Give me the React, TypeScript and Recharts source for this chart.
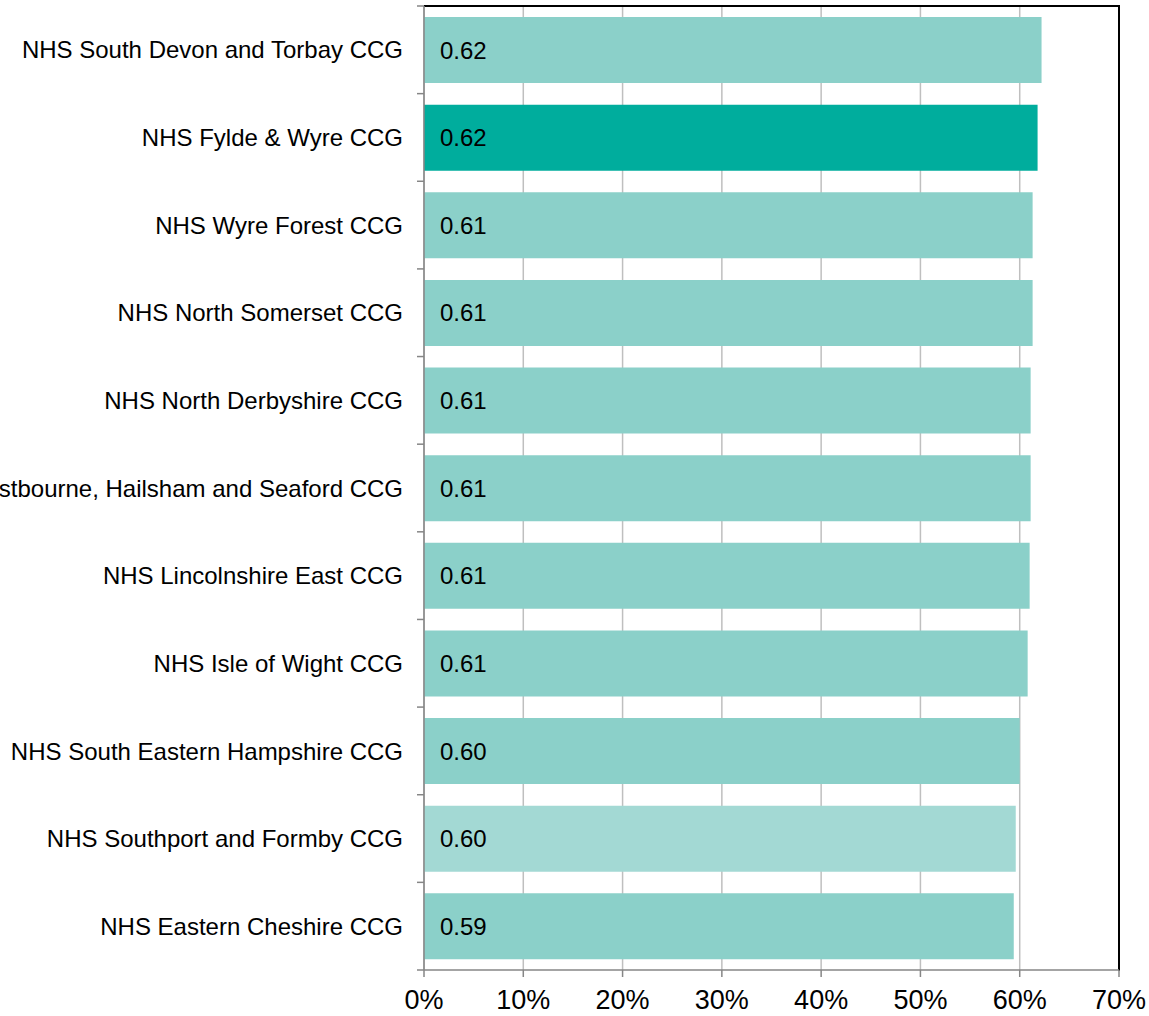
import { BarChart, Bar, XAxis, YAxis, CartesianGrid, Cell, LabelList, ReferenceArea } from 'recharts';

const categories = [
    'NHS South Devon and Torbay CCG',
    'NHS Fylde & Wyre CCG',
    'NHS Wyre Forest CCG',
    'NHS North Somerset CCG',
    'NHS North Derbyshire CCG',
    'NHS Eastbourne, Hailsham and Seaford CCG',
    'NHS Lincolnshire East CCG',
    'NHS Isle of Wight CCG',
    'NHS South Eastern Hampshire CCG',
    'NHS Southport and Formby CCG',
    'NHS Eastern Cheshire CCG',
];

const values = [0.622, 0.618, 0.613, 0.613, 0.611, 0.611, 0.610, 0.608, 0.600, 0.596, 0.594];

const xTicks = [0, 0.1, 0.2, 0.3, 0.4, 0.5, 0.6, 0.7];

const highlighted = 'NHS Fylde & Wyre CCG';
const faded = 'NHS Southport and Formby CCG';

const data = categories.map((name, i) => ({ name, value: values[i] }));

const FONT = 'Liberation Sans, Arial, sans-serif';
const BAND = (970 - 6) / categories.length;

const barColor = (name: string) => {
    if (name === highlighted) return '#00ad9d';
    if (name === faded) return '#a3d9d4';
    return '#8bd0c9';
};

const CategoryTick = (props: any) => {
    const { x, y, payload, index } = props;
    const last = index === categories.length - 1;
    return <g>
        <line x1={424} x2={417} y1={y - BAND / 2} y2={y - BAND / 2} stroke="#868686" strokeWidth={1.5} />
        {last && <line x1={424} x2={417} y1={y + BAND / 2} y2={y + BAND / 2} stroke="#868686" strokeWidth={1.5} />}
        <text x={x} y={y} dy="0.36em" textAnchor="end" fontFamily={FONT} fontSize={24} fill="#000">
            {payload.value}
        </text>
    </g>;
};

const App = () => {
    return <div style={{ position: 'absolute', left: 0, top: 0 }}>
        <BarChart
            width={1149}
            height={1016}
            data={data}
            layout="vertical"
            margin={{ top: 6, right: 30, bottom: 0, left: 0 }}
        >
            <CartesianGrid horizontal={false} stroke="#bfbfbf" strokeWidth={1.5} />
            <XAxis
                type="number"
                domain={[0, 0.7]}
                ticks={xTicks}
                tickFormatter={(v: number) => `${Math.round(v * 100)}%`}
                tick={{ fontFamily: FONT, fontSize: 27, fill: '#000' }}
                axisLine={{ stroke: '#868686', strokeWidth: 1.5 }}
                tickLine={{ stroke: '#868686', strokeWidth: 1.5 }}
                tickSize={7}
                tickMargin={13}
                height={46}
            />
            <YAxis
                type="category"
                dataKey="name"
                width={424}
                axisLine={{ stroke: '#868686', strokeWidth: 1.5 }}
                tickLine={false}
                tickMargin={15}
                tick={<CategoryTick />}
                interval={0}
            />
            <ReferenceArea
                x1={0}
                x2={0.7}
                fill="none"
                stroke="#000"
                strokeWidth={2}
                strokeDasharray="1660 3000"
            />
            <Bar dataKey="value" barSize={66} isAnimationActive={false}>
                {data.map(d => <Cell key={d.name} fill={barColor(d.name)} />)}
                <LabelList
                    dataKey="value"
                    position="insideLeft"
                    offset={16}
                    formatter={(v: any) => Number(v).toFixed(2)}
                    style={{ fontFamily: FONT, fontSize: 24, fill: '#000' }}
                />
            </Bar>
        </BarChart>
    </div>;
};

export default App;
